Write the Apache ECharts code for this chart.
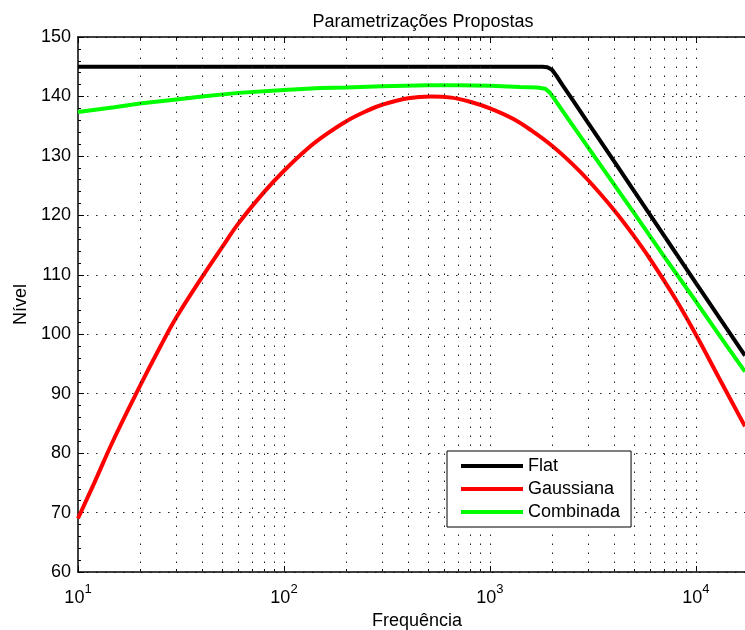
<!DOCTYPE html>
<html>
<head>
<meta charset="utf-8">
<script src="https://cdn.jsdelivr.net/npm/echarts@6.0.0/dist/echarts.min.js"></script>
<style>
  html, body { margin: 0; padding: 0; background: #fff; }
  #chart { width: 745px; height: 630px; }
</style>
</head>
<body>
<div id="chart"></div>
<script>
  // curves (frequency in Hz, level)
  const flatFreq = [10, 100, 1000, 1800, 1900, 2000, 2100, 2250, 2500, 3000, 4000, 5000, 7000, 10000, 14000, 17300];
  const flatLevel = [145, 145, 145, 145, 144.9, 144.5, 143.5, 141.9, 139.6, 135.5, 129.1, 124.1, 116.6, 108.6, 101.1, 96.4];

  const gaussFreq = [10, 12, 15, 20, 25, 30, 40, 50, 60, 80, 100, 130, 160, 200, 250, 300, 400, 520, 650, 800, 1000, 1300, 1600, 2000, 2500, 3000, 4000, 5000, 6000, 8000, 10000, 13000, 17300];
  const gaussLevel = [69.0, 75.0, 82.5, 91.3, 97.8, 102.8, 109.6, 114.6, 118.6, 123.9, 127.5, 131.2, 133.6, 135.8, 137.5, 138.6, 139.7, 140.0, 139.8, 139.1, 138.0, 136.2, 134.2, 131.7, 128.7, 125.9, 120.9, 116.5, 112.6, 105.8, 99.9, 92.5, 84.5];

  const combFreq = [10, 15, 20, 30, 40, 60, 100, 150, 200, 300, 500, 700, 1000, 1400, 1700, 1850, 1950, 2100, 2500, 3000, 4000, 5000, 7000, 10000, 14000, 17300];
  const combLevel = [137.4, 138.2, 138.8, 139.5, 140.0, 140.6, 141.1, 141.4, 141.5, 141.7, 141.9, 141.9, 141.8, 141.6, 141.5, 141.3, 140.7, 139.1, 135.3, 131.4, 125.2, 120.4, 113.1, 105.5, 98.2, 93.7];

  // axis ticks / grid positions
  const decadeTicks = [10, 100, 1000, 10000];
  const minorTicks = [20, 30, 40, 50, 60, 70, 80, 90, 200, 300, 400, 500, 600, 700, 800, 900,
                      2000, 3000, 4000, 5000, 6000, 7000, 8000, 9000];
  const gridFreqs = [20, 30, 40, 50, 60, 70, 80, 90, 100, 200, 300, 400, 500, 600, 700, 800, 900, 1000,
                     2000, 3000, 4000, 5000, 6000, 7000, 8000, 9000, 10000];

  const font = '"Liberation Sans", Helvetica, Arial, sans-serif';
  const dotted = { color: '#222', width: 1, type: [1.5, 7.5] };

  function pairs(xs, ys) {
    return xs.map((x, i) => [x, ys[i]]);
  }

  // the figure is cut at the right edge, so the visible x range stops near 1.73e4
  function logAxis(position, ticks, len, withLine) {
    return {
      type: 'log', logBase: 10, min: 10, max: 17300, position: position,
      splitLine: { show: false },
      axisLabel: { show: false },
      axisLine: { show: withLine, onZero: false, lineStyle: { color: '#000', width: 1.5 } },
      axisTick: { show: true, inside: true, length: len, customValues: ticks, lineStyle: { color: '#000' } }
    };
  }

  const bottomMain = logAxis('bottom', decadeTicks, 6, true);
  bottomMain.name = 'Frequência';
  bottomMain.nameLocation = 'middle';
  bottomMain.nameGap = 33;
  bottomMain.nameTextStyle = { fontSize: 18, color: '#000', fontFamily: font, padding: [0, 0, 0, 11] };
  bottomMain.axisLabel = {
    show: true,
    customValues: decadeTicks,
    margin: 11,
    formatter: v => '{b|10}{e|' + Math.round(Math.log10(v)) + '}',
    rich: {
      b: { fontSize: 18, color: '#000', fontFamily: font, lineHeight: 24, verticalAlign: 'bottom' },
      e: { fontSize: 13, color: '#000', fontFamily: font, lineHeight: 24, verticalAlign: 'top' }
    }
  };

  const chart = echarts.init(document.getElementById('chart'));
  chart.setOption({
    backgroundColor: '#fff',
    animation: false,
    title: {
      text: 'Parametrizações Propostas',
      left: 418,
      top: 8,
      textAlign: 'center',
      textStyle: { fontSize: 18, fontWeight: 'normal', color: '#000', fontFamily: font }
    },
    grid: { left: 78, top: 37, bottom: 58, right: 0, containLabel: false, outerBoundsMode: 'none' },
    legend: {
      data: ['Flat', 'Gaussiana', 'Combinada'],
      orient: 'vertical',
      left: 447,
      top: 451,
      icon: 'rect',
      itemWidth: 62,
      itemHeight: 4,
      itemGap: 5,
      padding: [6, 11, 6, 14],
      borderColor: '#000',
      borderWidth: 1,
      backgroundColor: '#fff',
      textStyle: { fontSize: 18, color: '#000', fontFamily: font, lineHeight: 18 },
      z: 10
    },
    xAxis: [
      bottomMain,
      logAxis('bottom', minorTicks, 3, false),
      logAxis('top', decadeTicks, 6, true),
      logAxis('top', minorTicks, 3, false)
    ],
    yAxis: {
      type: 'value', min: 60, max: 150, interval: 10,
      name: 'Nível',
      nameLocation: 'middle',
      nameGap: 48,
      nameRotate: 90,
      nameTextStyle: { fontSize: 18, color: '#000', fontFamily: font },
      axisLine: { show: true, lineStyle: { color: '#000', width: 1.5 } },
      axisTick: { show: true, inside: true, length: 6, lineStyle: { color: '#000' } },
      minorTick: { show: true, splitNumber: 5, length: 3, lineStyle: { color: '#000' } },
      splitLine: { show: true, lineStyle: dotted },
      axisLabel: { fontSize: 18, color: '#000', margin: 7, fontFamily: font }
    },
    series: [
      {
        // vertical dotted grid for the log axis
        name: 'grid', type: 'line', z: 1, data: [[10, 60]],
        showSymbol: false, lineStyle: { opacity: 0 },
        markLine: {
          silent: true, symbol: 'none', label: { show: false },
          lineStyle: dotted,
          data: gridFreqs.map(f => ({ xAxis: f }))
        }
      },
      {
        name: 'Flat', type: 'line', z: 3, data: pairs(flatFreq, flatLevel),
        showSymbol: false, lineStyle: { color: '#000', width: 4 }, itemStyle: { color: '#000' }
      },
      {
        name: 'Gaussiana', type: 'line', z: 3, data: pairs(gaussFreq, gaussLevel), smooth: 0.4,
        showSymbol: false, lineStyle: { color: '#ff0000', width: 4 }, itemStyle: { color: '#ff0000' }
      },
      {
        name: 'Combinada', type: 'line', z: 3, data: pairs(combFreq, combLevel),
        showSymbol: false, lineStyle: { color: '#00ff00', width: 4 }, itemStyle: { color: '#00ff00' }
      }
    ]
  });
</script>
</body>
</html>
